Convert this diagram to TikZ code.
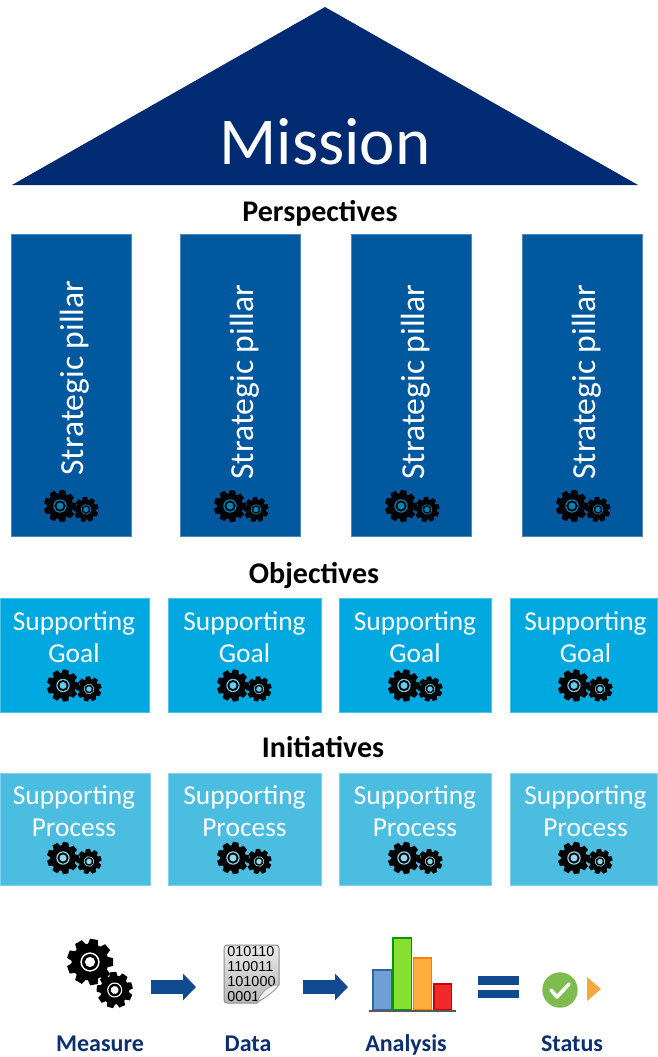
\documentclass[tikz,border=0pt]{standalone}
\usepackage{fontspec}
\usepackage{xcolor}
\setmainfont{Carlito}
\newfontfamily\datafont{Liberation Sans}
\usetikzlibrary{arrows.meta, positioning}
\definecolor{roofblue}{HTML}{002B72}
\definecolor{pillarblue}{HTML}{00589F}
\definecolor{goalblue}{HTML}{00A8E0}
\definecolor{processblue}{HTML}{4BBDE0}
\definecolor{labelblue}{HTML}{0B2F6F}
\definecolor{arrowblue}{HTML}{114A90}
\definecolor{barblue}{HTML}{6F9FD4}
\definecolor{bargreen}{HTML}{86E030}
\definecolor{barorange}{HTML}{FFAD3F}
\definecolor{barred}{HTML}{F02A2A}
\definecolor{statusgreen}{HTML}{7FBC4F}
\definecolor{statusorange}{HTML}{F2A93B}
\tikzset{
    pics/gear/.style={code={
        \fill[black] (0,0) circle (0.8);
        \foreach \a in {0,40,...,320}
            \fill[black, rotate=\a] (0.7,-0.24) -- (1,-0.17) -- (1,0.17) -- (0.7,0.24) -- cycle;
        \fill[#1] (0,0) circle (0.42);
        \fill[black] (0,0) circle (0.35);
        \fill[#1] (0,0) circle (0.22);
    }},
    pics/gearpair/.style={code={
        \pic[scale=16] at (0,0) {gear=#1};
        \pic[scale=12.5, rotate=15] at (26,3.5) {gear=#1};
    }}
}
\begin{document}
\begin{tikzpicture}[x=1pt, y=-1pt,
    box/.style={draw=#1!70!white, line width=0.5pt, fill=#1, inner sep=0pt},
    pillar/.style={box=pillarblue, minimum width=120pt, minimum height=302pt},
    goal/.style={box=goalblue, minimum height=114pt},
    process/.style={box=processblue, minimum height=112pt},
    heading/.style={anchor=base, inner sep=0pt, font=\fontsize{30}{34}\selectfont\bfseries},
    pillartext/.style={rotate=90, text=white, font=\fontsize{33.6}{38}\selectfont},
    boxtext/.style={text=white, align=center, inner sep=0pt, font=\fontsize{27.4}{32}\selectfont},
    caption/.style={anchor=base, inner sep=0pt, text=labelblue, font=\fontsize{24}{28}\selectfont\bfseries},
    blockarrow/.style={arrowblue, line width=14pt, -{Triangle[length=13pt, width=26pt]}},
    bar/.style 2 args={line width=1.6pt, draw=#2, fill=#1}]
    \useasboundingbox (0,0) rectangle (657,1057);

    \fill[roofblue] (12,185) -- (325,7) -- (638,185) -- cycle;
    \node[anchor=base, inner sep=0pt, text=white, font=\fontsize{67}{74}\selectfont] (mission) at (325,164) {Mission};

    \node[heading] (perspectives) at (320,221) {Perspectives};
    \node[pillar] (pillar1) at (71,385.5) {};
    \node[pillar] (pillar2) at (240,385.5) {};
    \node[pillar] (pillar3) at (411,385.5) {};
    \node[pillar] (pillar4) at (582,385.5) {};
    \node[pillartext] (pillartext1) at (74.5,378) {Strategic pillar};
    \node[pillartext] (pillartext2) at (244.5,382) {Strategic pillar};
    \node[pillartext] (pillartext3) at (415.5,382) {Strategic pillar};
    \node[pillartext] (pillartext4) at (586.5,382) {Strategic pillar};
    \pic at (60,506) {gearpair=pillarblue!75!cyan};
    \pic at (230,506) {gearpair=pillarblue!75!cyan};
    \pic at (401,506) {gearpair=pillarblue!75!cyan};
    \pic at (572,506) {gearpair=pillarblue!75!cyan};

    \node[heading] (objectives) at (314,583) {Objectives};
    \node[goal, minimum width=149.5pt] (goal1) at (74.75,655) {};
    \node[goal, minimum width=153pt] (goal2) at (244.5,655) {};
    \node[goal, minimum width=152pt] (goal3) at (415,655) {};
    \node[goal, minimum width=147pt] (goal4) at (583.5,655) {};
    \node[boxtext] (goaltext1) at (74,637) {Supporting\\Goal};
    \node[boxtext] (goaltext2) at (244.5,637) {Supporting\\Goal};
    \node[boxtext] (goaltext3) at (415,637) {Supporting\\Goal};
    \node[boxtext] (goaltext4) at (585.5,637) {Supporting\\Goal};
    \pic at (63,685.5) {gearpair=goalblue!60!white};
    \pic at (233,685.5) {gearpair=goalblue!60!white};
    \pic at (404,685.5) {gearpair=goalblue!60!white};
    \pic at (574,685.5) {gearpair=goalblue!60!white};

    \node[heading] (initiatives) at (323,757) {Initiatives};
    \node[process, minimum width=150pt] (process1) at (75,829) {};
    \node[process, minimum width=153pt] (process2) at (244.5,829) {};
    \node[process, minimum width=152pt] (process3) at (415,829) {};
    \node[process, minimum width=147pt] (process4) at (583.5,829) {};
    \node[boxtext] (processtext1) at (74,811) {Supporting\\Process};
    \node[boxtext] (processtext2) at (244.5,811) {Supporting\\Process};
    \node[boxtext] (processtext3) at (415,811) {Supporting\\Process};
    \node[boxtext] (processtext4) at (585.5,811) {Supporting\\Process};
    \pic at (63,858) {gearpair=processblue!60!white};
    \pic at (233,858) {gearpair=processblue!60!white};
    \pic at (404,858) {gearpair=processblue!60!white};
    \pic at (574,858) {gearpair=processblue!60!white};

    \pic[scale=23] at (90,962) {gear=white};
    \pic[scale=18, rotate=15] at (114.7,990) {gear=white};

    \node[draw=black!45, line width=1pt, rounded corners=3pt, top color=black!8, bottom color=black!28,
        minimum width=55pt, minimum height=58pt, inner sep=0pt, align=left,
        font=\datafont\fontsize{14.4}{15.3}\selectfont] (dataicon) at (251.5,974)
        {010110\\110011\\101000\\0001\phantom{00}};
    \fill[white] (279.8,985) -- (280,1004) -- (257,1004) -- cycle;
    \draw[black!40, fill=black!6, line width=0.8pt] (279,985) .. controls (271,984) and (262,990) .. (257,1002)
        .. controls (263,999) and (272,994) .. (279,985);

    \coordinate (measureout) at (151,987);
    \coordinate (datain) at (196,987);
    \coordinate (dataout) at (303,987);
    \coordinate (analysisin) at (348,987);
    \draw[blockarrow] (measureout) -- (datain);
    \draw[blockarrow] (dataout) -- (analysisin);

    \draw[bar={barblue}{arrowblue!85!white}] (373,970) rectangle (391.5,1010);
    \draw[bar={bargreen}{green!60!black}] (393,938) rectangle (411.5,1010);
    \draw[bar={barorange}{orange}] (413.5,958) rectangle (431.5,1010);
    \draw[bar={barred}{red!80!black}] (434,984) rectangle (451.5,1010);
    \fill[black!65] (369,1009.5) rectangle (456,1012);

    \fill[arrowblue] (478,976) rectangle (519,985);
    \fill[arrowblue] (478,990) rectangle (519,998);

    \fill[statusgreen] (560,990) circle (17.7);
    \draw[white, line width=3.6pt, line cap=round, line join=round] (551,990) -- (557,997) -- (569,984);
    \fill[statusorange] (587,977) -- (601,989) -- (587,1001) -- cycle;

    \node[caption] (measure) at (100,1051) {Measure};
    \node[caption] (data) at (248,1051) {Data};
    \node[caption] (analysis) at (406,1051) {Analysis};
    \node[caption] (status) at (572,1051) {Status};
\end{tikzpicture}
\end{document}
